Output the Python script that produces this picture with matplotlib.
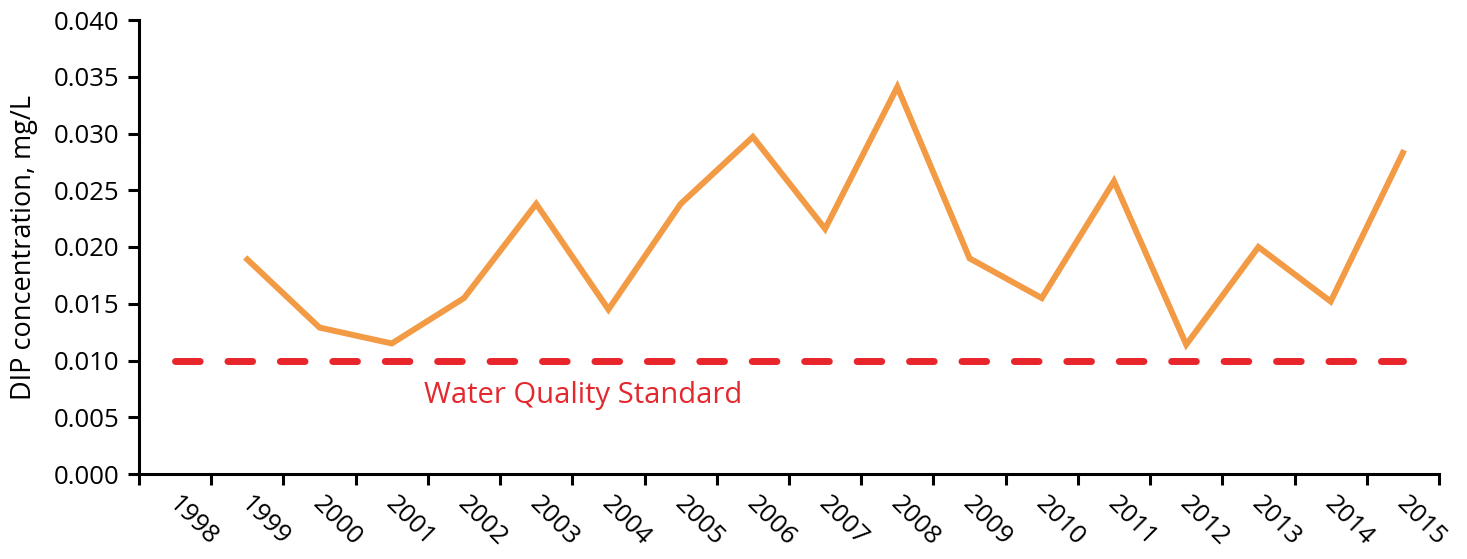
import numpy as np
import matplotlib
matplotlib.use("Agg")
import matplotlib.pyplot as plt
from matplotlib.transforms import ScaledTranslation

plt.rcParams['font.family'] = ['Open Sans', 'DejaVu Sans']

# data
years = [str(y) for y in range(1998, 2016)]
dip = [np.nan, 0.0189, 0.0129, 0.0115, 0.0155, 0.0238, 0.0145, 0.0238, 0.0297,
       0.0216, 0.0341, 0.0190, 0.0155, 0.0258, 0.0114, 0.0200, 0.0152, 0.0283]
standard = [0.010] * len(years)
yticks = [0.000, 0.005, 0.010, 0.015, 0.020, 0.025, 0.030, 0.035, 0.040]

fig = plt.figure(figsize=(14.67, 5.59), dpi=100)
ax = fig.add_axes([139/1467, (559-474)/559, 1300/1467, 454/559])

x = np.arange(len(years))
ax.plot(x, standard, color='#e8252b', lw=5.0, dashes=(3.55, 4.0),
        dash_capstyle='round', zorder=2)
ax.plot(x, dip, color='#f39a45', lw=4.3, solid_joinstyle='miter', zorder=3)

ax.text(5.65, 0.0069, 'Water Quality Standard', color='#e3282e',
        fontsize=21, ha='center', va='center')

ax.set_xlim(-0.5, len(years) - 0.5)
ax.set_ylim(0, 0.04)
ax.set_yticks(yticks)
ax.set_yticklabels([f'{v:.3f}' for v in yticks])

# category boundaries as major ticks, labels on minor ticks at centers
ax.set_xticks(np.arange(-0.5, len(years), 1.0))
ax.set_xticklabels([])
ax.set_xticks(x, minor=True)
ax.set_xticklabels(years, minor=True, rotation=-45, ha='center')
ax.tick_params(axis='x', which='minor', length=0, pad=13, labelsize=18.5)
ax.tick_params(axis='x', which='major', length=8, width=2.2, direction='out')
ax.tick_params(axis='y', length=8, width=2.2, labelsize=18.5, pad=6)
off = ScaledTranslation(0.18, 0, fig.dpi_scale_trans)
for lab in ax.get_xticklabels(minor=True):
    lab.set_transform(lab.get_transform() + off)

for s in ['top', 'right']:
    ax.spines[s].set_visible(False)
for s in ['left', 'bottom']:
    ax.spines[s].set_linewidth(2.2)

ax.set_ylabel('DIP concentration, mg/L', fontsize=19.5)
ax.yaxis.set_label_coords(-0.078, 0.5)

fig.savefig('out.png', dpi=100)
